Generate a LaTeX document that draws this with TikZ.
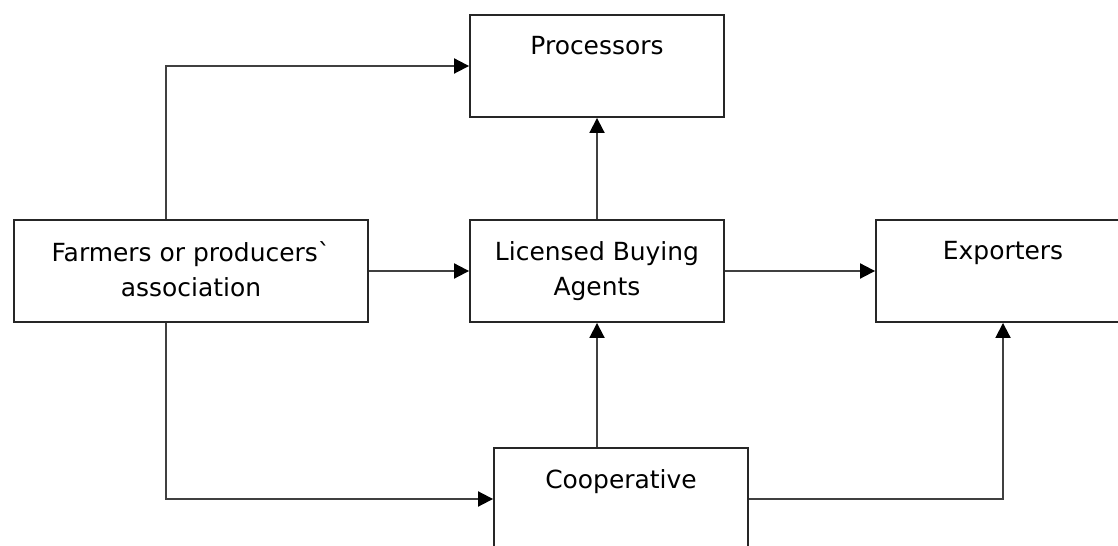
\documentclass[tikz,border=0pt]{standalone}
\usepackage{fontspec}
\setmainfont{DejaVu Sans}
\usetikzlibrary{arrows.meta,positioning}

\tikzset{
  chainbox/.style={draw=black!85, line width=1.1pt, minimum width=5.08cm, minimum height=2.04cm, inner sep=0pt},
  boxtext/.style={anchor=north, yshift=-0.44cm, inner sep=0pt, align=center, font=\fontsize{14.2}{19.9}\selectfont},
  flow/.style={draw=black!75, line width=1.1pt, -{Triangle[length=0.3cm,width=0.3cm,color=black]}}
}

\begin{document}
\begin{tikzpicture}[x=0.02cm, y=-0.02cm]
\useasboundingbox (0,0) rectangle (1118,546);
% boxes
\node [chainbox, label={[boxtext]north:Processors}] (proc) at (597,66) {};
\node [chainbox, minimum width=7.08cm, label={[boxtext]north:Farmers or producersˋ\\association}] (farm) at (191,271) {};
\node [chainbox, label={[boxtext]north:Licensed Buying\\Agents}] (lba) at (597,271) {};
\node [chainbox, label={[boxtext]north:Exporters}] (exp) at (1003,271) {};
\node [chainbox, label={[boxtext]north:Cooperative}] (coop) at (621,499) {};
% connectors
\draw [flow] ([shift={(-25,0)}]farm.north) |- (proc.west);
\draw [flow] (lba) -- (proc);
\draw [flow] (farm) -- (lba);
\draw [flow] (lba) -- (exp);
\draw [flow] (lba.south |- coop.north) -- (lba.south);
\draw [flow] ([shift={(-25,0)}]farm.south) |- (coop.west);
\draw [flow] (coop.east) -| (exp.south);
\end{tikzpicture}
\end{document}
